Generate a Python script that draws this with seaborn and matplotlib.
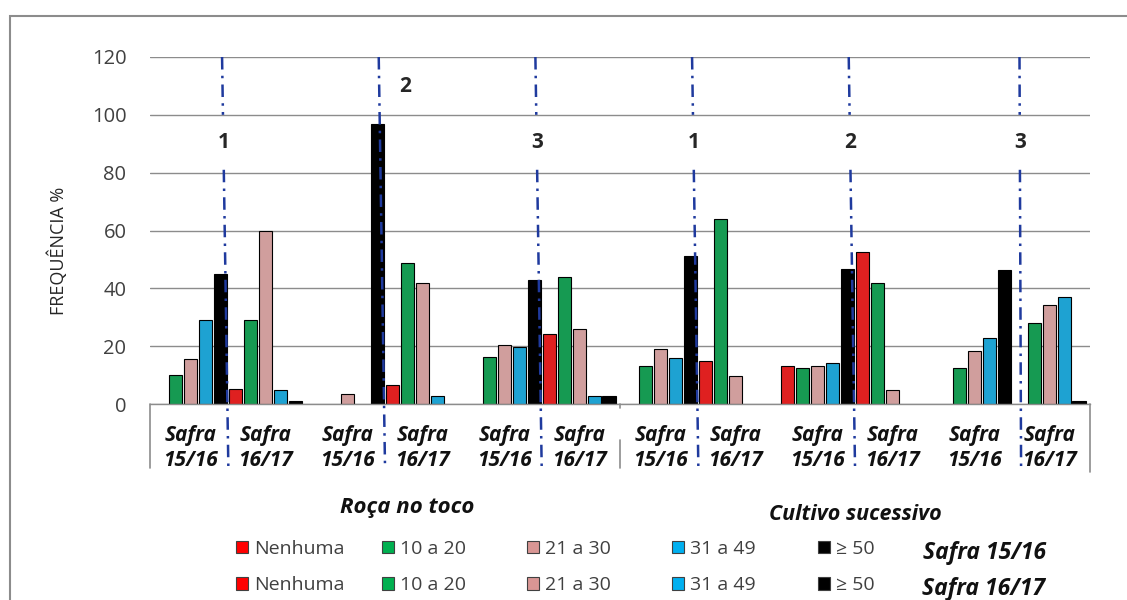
import numpy as np
import pandas as pd
import seaborn as sns
import matplotlib.pyplot as plt
from matplotlib.patches import Patch, Rectangle

# Data (frequency %)
groups = ["Roça 1", "Roça 2", "Roça 3", "Cultivo 1", "Cultivo 2", "Cultivo 3"]
group_numbers = ["1", "2", "3", "1", "2", "3"]
classes = ["Nenhuma", "10 a 20", "21 a 30", "31 a 49", "≥ 50"]
safras = ["15/16", "16/17"]

# one list per group: 5 classes for Safra 15/16 then 5 classes for Safra 16/17
roca_1 = [0, 10.0, 15.6, 29.0, 44.8, 5.1, 29.0, 60.0, 5.0, 1.2]
roca_2 = [0, 0, 3.3, 0, 96.7, 6.6, 48.7, 42.0, 2.9, 0]
roca_3 = [0, 16.4, 20.3, 19.8, 42.9, 24.1, 44.0, 25.9, 2.9, 2.9]
cultivo_1 = [0, 13.3, 19.0, 16.0, 51.3, 14.9, 63.9, 9.8, 0, 0]
cultivo_2 = [13.0, 12.6, 13.3, 14.1, 46.8, 52.7, 42.0, 4.8, 0, 0]
cultivo_3 = [0, 12.6, 18.3, 22.9, 46.3, 0, 27.9, 34.1, 37.1, 1.0]

class_colors = ["#FF0000", "#00B050", "#D99694", "#00B0F0", "#000000"]

series = [f"{c} {s}" for s in safras for c in classes]
palette = dict(zip(series, class_colors * 2))

rows = []
for g, vals in zip(groups, [roca_1, roca_2, roca_3, cultivo_1, cultivo_2, cultivo_3]):
    for s, v in zip(series, vals):
        rows.append({"grupo": g, "serie": s, "valor": v})
df = pd.DataFrame(rows)

sns.set_style("white")
plt.rcParams["font.family"] = ["Open Sans", "DejaVu Sans"]

fig = plt.figure(figsize=(11.27, 6), dpi=100)
W, H = 1127, 600
ax = fig.add_axes([150 / W, (H - 404) / H, 940 / W, 347 / H])

group_width = 0.955
sns.barplot(data=df, x="grupo", y="valor", hue="serie", order=groups,
            hue_order=series, palette=palette, width=group_width, gap=0.13,
            edgecolor="black", linewidth=0.8, errorbar=None, legend=False, ax=ax)

# hide empty bars
for p in ax.patches:
    if p.get_height() == 0:
        p.set_visible(False)

ax.set_xlim(-0.5, 5.5)
ax.set_ylim(0, 120)
ax.set_yticks(range(0, 121, 20))
ax.yaxis.grid(True, color="#8c8c8c", linewidth=1)
ax.set_axisbelow(True)
for side in ["top", "right", "left"]:
    ax.spines[side].set_visible(False)
ax.spines["bottom"].set_color("#8c8c8c")
ax.spines["bottom"].set_linewidth(1)
ax.tick_params(axis="y", length=0, pad=17, labelsize=14.5, labelcolor="#404040")

# Safra labels under each half of a group
half = group_width / 4
xt, xl = [], []
for i in range(len(groups)):
    for j, s in enumerate(safras):
        xt.append(i + (j * 2 - 1) * half)
        xl.append(f"Safra\n{s}")
ax.set_xticks(xt)
ax.set_xticklabels(xl, fontsize=15, fontweight="bold", fontstyle="italic",
                   color="#111111", linespacing=1.25)
ax.tick_params(axis="x", length=0, pad=15)
ax.set_xlabel("")
ax.set_ylabel("FREQUÊNCIA %", fontsize=13, color="#262626")
ax.yaxis.set_label_coords(-0.087, 0.44)

# category axis separators below the axis
sep = dict(color="#8c8c8c", linewidth=1.2, clip_on=False)
ax.plot([-0.5, -0.5], [0, -22], **sep)
ax.plot([2.5, 2.5], [-12.5, -22], **sep)
ax.plot([2.5, 2.5], [0, -1.5], **sep)
ax.plot([5.5, 5.5], [0, -23.5], **sep)

# dash-dot divisors with the numbers
div = dict(color="#1f3a9e", linewidth=1.8, linestyle=(0, (5, 2.5, 1, 2.5)), clip_on=False)
for i, num in enumerate(group_numbers):
    x0 = i - 0.04 if i < 5 else i + 0.05
    x1 = i if i < 5 else i + 0.06
    slope = (x1 - x0) / (120 + 21.5)
    if i == 1:
        ax.plot([x0, x1], [120, -21.5], **div)
        ax.text(x0 + 0.17, 109.7, num, ha="center", va="center",
                fontsize=15, fontweight="bold")
    else:
        ax.plot([x0, x0 + slope * 20], [120, 100], **div)
        ax.plot([x0 + slope * 39, x1], [81, -21.5], **div)
        ax.text(x0 + slope * 30, 90.3, num, ha="center", va="center",
                fontsize=15, fontweight="bold")

# outer chart border
fig.patches.append(Rectangle((10 / W, -0.1), 1.2, (H - 16) / H + 0.1,
                             transform=fig.transFigure, fill=False,
                             edgecolor="#8c8c8c", linewidth=1.5))

# legend: one small two-row legend per class
sq_left = [236, 382, 527, 672, 818]
for c, col, x in zip(classes, class_colors, sq_left):
    handles = [Patch(facecolor=col, edgecolor="#404040", linewidth=0.8) for _ in safras]
    fig.legend(handles, [c, c], loc="center left",
               bbox_to_anchor=(x / W, (H - 567) / H), frameon=False,
               fontsize=14, labelcolor="#404040", borderpad=0, borderaxespad=0,
               handlelength=0.62, handleheight=0.62, handletextpad=0.3,
               labelspacing=0.95)

txt = dict(fontweight="bold", fontstyle="italic", ha="center",
           va="center", color="#111111")
fig.text(985 / W, (H - 553) / H, "Safra 15/16", fontsize=16.5, **txt)
fig.text(984 / W, (H - 589) / H, "Safra 16/17", fontsize=16.5, **txt)
fig.text(407 / W, (H - 507) / H, "Roça no toco", fontsize=16, **txt)
fig.text(855 / W, (H - 515) / H, "Cultivo sucessivo", fontsize=15.5, **txt)

fig.savefig("out.png", dpi=100)
